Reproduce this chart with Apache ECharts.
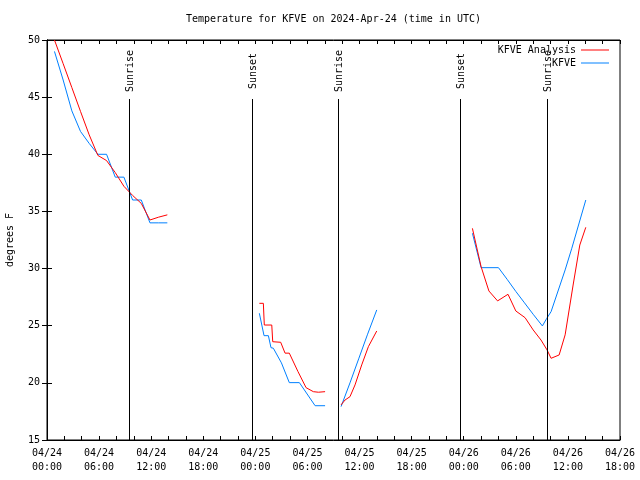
<!DOCTYPE html>
<html><head><meta charset="utf-8">
<script src="https://cdn.jsdelivr.net/npm/echarts@6/dist/echarts.min.js"></script>
<style>html,body{margin:0;padding:0;background:#fff}#c{width:640px;height:480px}</style>
</head><body><div id="c"></div>
<script>
// x values are hours since 04/24 00:00 UTC
const tickLabels = ['04/24\n00:00','04/24\n06:00','04/24\n12:00','04/24\n18:00',
  '04/25\n00:00','04/25\n06:00','04/25\n12:00','04/25\n18:00',
  '04/26\n00:00','04/26\n06:00','04/26\n12:00','04/26\n18:00'];

const analysisSeg1 = [[0.86,50.0],[1.86,47.93],[2.86,45.84],[3.86,43.75],[4.86,41.7],[5.86,39.9],[6.86,39.45],[7.86,38.4],[8.86,37.2],[9.86,36.4],[10.86,35.7],[11.86,34.25],[12.86,34.5],[13.86,34.7]];
const analysisSeg2 = [[24.46,26.96],[24.92,26.96],[25.03,25.06],[25.89,25.06],[26.0,23.6],[26.92,23.55],[27.42,22.6],[27.91,22.6],[28.9,21.0],[29.84,19.58],[30.68,19.23],[31.26,19.18],[32.03,19.23]];
const analysisSeg3 = [[33.87,18.07],[34.33,18.5],[34.9,18.79],[35.48,19.82],[36.25,21.57],[37.02,23.17],[37.98,24.54]];
const analysisSeg4 = [[49.0,33.52],[50.0,30.17],[50.9,28.04],[51.9,27.17],[53.1,27.75],[54.0,26.29],[55.07,25.7],[56.0,24.63],[56.9,23.75],[57.6,22.88],[58.06,22.15],[58.99,22.44],[59.68,24.2],[60.6,28.56],[61.37,32.06],[62.06,33.61]];

const obsSeg1 = [[0.86,49.0],[1.86,46.5],[2.86,43.8],[3.86,42.0],[4.86,40.95],[5.86,40.0],[6.86,40.0],[7.86,38.0],[8.86,38.0],[9.86,36.0],[10.86,36.0],[11.86,34.0],[12.86,34.0],[13.86,34.0]];
const obsSeg2 = [[24.46,26.09],[25.0,24.13],[25.5,24.13],[25.8,23.08],[26.07,23.03],[27.0,21.75],[27.91,20.02],[29.07,20.02],[30.88,18.0],[32.03,18.0]];
const obsSeg3 = [[33.87,17.92],[34.9,20.0],[35.9,22.1],[36.9,24.2],[37.98,26.38]];
const obsSeg4 = [[49.0,33.09],[50.0,30.08],[52.0,30.08],[53.0,29.06],[54.0,28.0],[55.0,27.0],[56.0,26.0],[57.06,24.98],[57.57,25.65],[58.06,26.23],[59.68,29.88],[60.45,31.78],[62.06,36.0]];

const sunNames = ['Sunrise','Sunset','Sunrise','Sunset','Sunrise'];
const sunTimes = [9.48, 23.58, 33.56, 47.58, 57.64];

function joinSegs(segs){
  const out = [];
  segs.forEach((s,i)=>{ if(i>0) out.push([s[0][0]-0.01, null]); s.forEach(p=>out.push(p)); });
  return out;
}

const FONT = "'DejaVu Sans Mono', monospace";
const chart = echarts.init(document.getElementById('c'));
const xBase = {type:'value', min:0, max:66, interval:6,
  splitLine:{show:false},
  axisLine:{show:true, lineStyle:{color:'#000', width:1}},
  axisTick:{show:true, inside:true, length:4, lineStyle:{color:'#000'}},
  minorTick:{show:true, splitNumber:3, length:4, lineStyle:{color:'#000'}},
  minorSplitLine:{show:false}};
const yBase = {type:'value', min:15, max:50, interval:5,
  splitLine:{show:false},
  axisLine:{show:true, lineStyle:{color:'#000', width:1}},
  axisTick:{show:true, inside:true, length:5, lineStyle:{color:'#000'}}};

chart.setOption({
  animation:false,
  backgroundColor:'#fff',
  grid:{left:47, right:20, top:40, bottom:40, show:true, borderColor:'#000', borderWidth:1, containLabel:false, outerBoundsMode:'none'},
  graphic:[{type:'text', x:333.5, y:19, style:{text:'Temperature for KFVE on 2024-Apr-24 (time in UTC)', fill:'#000', font:"10px 'DejaVu Sans Mono', monospace", align:'center', verticalAlign:'middle'}}],
  legend:{orient:'vertical', right:31, top:44, padding:0, align:'right', itemWidth:28, itemHeight:1, itemGap:1, icon:'rect',
    textStyle:{fontFamily:FONT, fontSize:10, color:'#000', lineHeight:12},
    data:['KFVE Analysis','KFVE']},
  xAxis:[
    Object.assign({}, xBase, {position:'bottom',
      axisLabel:{show:true, margin:6, color:'#000', fontFamily:FONT, fontSize:10, lineHeight:14, showMinLabel:true, showMaxLabel:true,
        formatter:function(v){return tickLabels[Math.round(v/6)] || '';}}}),
    Object.assign({}, xBase, {position:'top', axisLabel:{show:false}})
  ],
  yAxis:[
    Object.assign({}, yBase, {position:'left', name:'degrees F', nameLocation:'middle', nameGap:32, nameRotate:90,
      nameTextStyle:{color:'#000', fontFamily:FONT, fontSize:10},
      axisLabel:{show:true, margin:7, color:'#000', fontFamily:FONT, fontSize:10}}),
    Object.assign({}, yBase, {position:'right', axisLabel:{show:false}})
  ],
  series:[
    {name:'KFVE Analysis', type:'line', data:joinSegs([analysisSeg1,analysisSeg2,analysisSeg3,analysisSeg4]),
      showSymbol:false, symbol:'none', connectNulls:false, color:'#ff0000', lineStyle:{color:'#ff0000', width:1}, z:3},
    {name:'KFVE', type:'line', data:joinSegs([obsSeg1,obsSeg2,obsSeg3,obsSeg4]),
      showSymbol:false, symbol:'none', connectNulls:false, color:'#0080ff', lineStyle:{color:'#0080ff', width:1}, z:2},
    {name:'sun', type:'custom', data:sunTimes.map(t=>[t]), encode:{x:0}, z:4, silent:true,
      renderItem:function(params, api){
        const x = Math.round(api.coord([api.value(0), 15])[0]) + 0.5;
        const top = params.coordSys.y;
        const bottom = params.coordSys.y + params.coordSys.height;
        return {type:'group', children:[
          {type:'line', shape:{x1:x, y1:bottom, x2:x, y2:top+59}, style:{stroke:'#000', lineWidth:1}},
          {type:'text', x:x+1, y:top+31, rotation:Math.PI/2,
            style:{text:sunNames[params.dataIndex], fill:'#000', font:"10px 'DejaVu Sans Mono', monospace", align:'center', verticalAlign:'middle'}}
        ]};
      }}
  ]
});
</script></body></html>
